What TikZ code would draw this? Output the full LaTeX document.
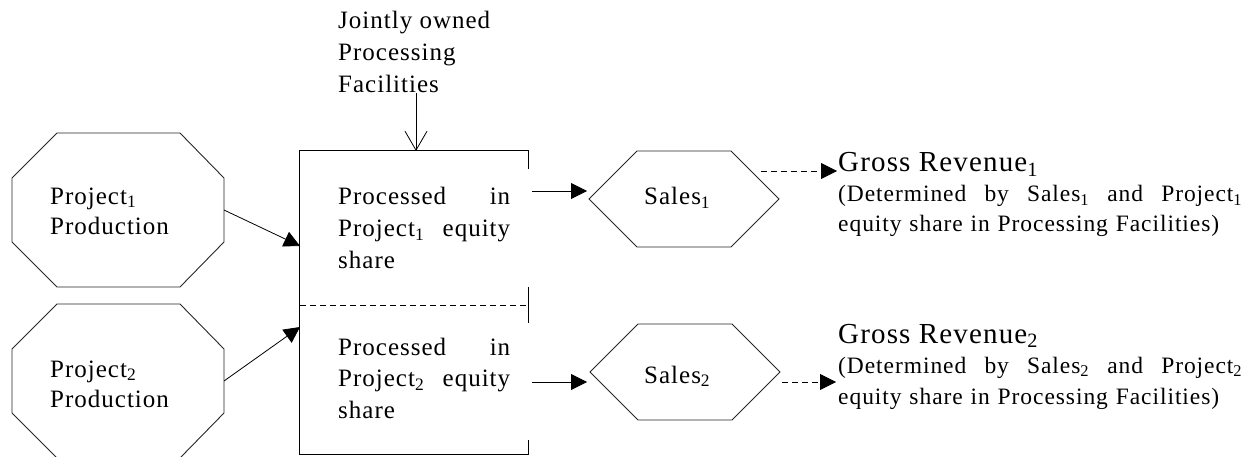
\documentclass[tikz,border=0pt]{standalone}
\usepackage{fontspec}
\setmainfont{Liberation Serif}[LetterSpace=4]
\usetikzlibrary{arrows.meta,calc}
\tikzset{
  shapeline/.style={draw=black!85, line width=0.9pt},
  boxline/.style={draw=black, line width=1.3pt},
  conn/.style={draw=black, line width=0.8pt, -{Triangle[length=16pt,width=16pt]}},
  dconn/.style={conn, dash pattern=on 6pt off 4pt},
  barb/.style={draw=black, line width=0.8pt, -{Straight Barb[length=19pt,width=22pt]}},
  txt/.style={inner sep=0pt, anchor=base west, font=\fontsize{25}{31.5}\selectfont, align=left},
  oct/.pic={\draw[shapeline] (-106,-32) -- (-61,-77) -- (62,-77) -- (106,-32) -- (106,32) -- (62,77) -- (-61,77) -- (-106,32) -- cycle;
            \coordinate (-e) at (106,0);},
  hexa/.pic={\draw[shapeline] (-95,0) -- (-47,-48) -- (47,-48) -- (95,0) -- (47,48) -- (-47,48) -- cycle;
             \coordinate (-w) at (-95,0);}
}
\begin{document}
\begin{tikzpicture}[x=1pt,y=-1pt]
\useasboundingbox (0,0) rectangle (1258,457);
% octagons
\pic (o1) at (118,210) {oct};
\pic (o2) at (118,381) {oct};
\node[txt, font=\fontsize{25}{30}\selectfont] (p1) at (50,234) {Project\textsubscript{1}\\Production};
\node[txt, font=\fontsize{25}{30}\selectfont] (p2) at (50,407) {Project\textsubscript{2}\\Production};
% processing box
\node[minimum width=228pt, minimum height=303pt, inner sep=0pt] (box) at (414,302.5) {};
\draw[boxline] ([yshift=-18pt]box.north east) -- (box.north east) -- (box.north west) -- (box.south west) -- (box.south east) -- ([yshift=14pt]box.south east);
\coordinate (div) at (300,305);
\draw[draw=black, line width=0.9pt, dash pattern=on 6pt off 4pt] (div) -- (div -| box.east);
\draw[boxline] ([yshift=18pt]div -| box.east) -- ([yshift=-18pt]div -| box.east);
\node[txt, text width=172pt] (b1) at (338,205) {Processed\hfill in\\Project\textsubscript{1}\hfill equity\\share};
\node[txt, text width=172pt] (b2) at (338,355) {Processed\hfill in\\Project\textsubscript{2}\hfill equity\\share};
% jointly owned
\node[txt, font=\fontsize{25}{32}\selectfont] (jt) at (338,93) {Jointly owned\\Processing\\Facilities};
\coordinate (jtin) at (416,151);
\draw[barb] (jt.south -| jtin) -- (jtin);
% inputs
\coordinate (in1) at (300,246);
\coordinate (in2) at (300,327);
\draw[conn] (o1-e) -- (in1);
\draw[conn] (o2-e) -- (in2);
% sales
\pic (s1) at (684,199) {hexa};
\pic (s2) at (685,372) {hexa};
\node[txt] (sl1) at (644,205) {Sales\textsubscript{1}};
\node[txt] (sl2) at (644,383) {Sales\textsubscript{2}};
\coordinate (a1s) at (532,191); \coordinate (a1e) at (587,191);
\coordinate (a2s) at (532,382); \coordinate (a2e) at (587,382);
\draw[conn] (a1s) -- (a1e);
\draw[conn] (a2s) -- (a2e);
% revenues
\coordinate (r1s) at (761,171); \coordinate (r1e) at (837,171);
\coordinate (r2s) at (782,382); \coordinate (r2e) at (836,382);
\draw[dconn] (r1s) -- (r1e);
\draw[dconn] (r2s) -- (r2e);
\node[txt, font=\fontsize{29}{30}\selectfont] (g1) at (838,172) {Gross Revenue\textsubscript{1}};
\node[txt, font=\fontsize{23.5}{30}\selectfont, text width=404pt] (d1) at (838,202) {(Determined\hfill by\hfill Sales\textsubscript{1}\hfill and\hfill Project\textsubscript{1}\\equity share in Processing Facilities)};
\node[txt, font=\fontsize{29}{30}\selectfont] (g2) at (838,343) {Gross Revenue\textsubscript{2}};
\node[txt, font=\fontsize{23.5}{31}\selectfont, text width=404pt] (d2) at (838,373) {(Determined\hfill by\hfill Sales\textsubscript{2}\hfill and\hfill Project\textsubscript{2}\\equity share in Processing Facilities)};
\end{tikzpicture}
\end{document}
